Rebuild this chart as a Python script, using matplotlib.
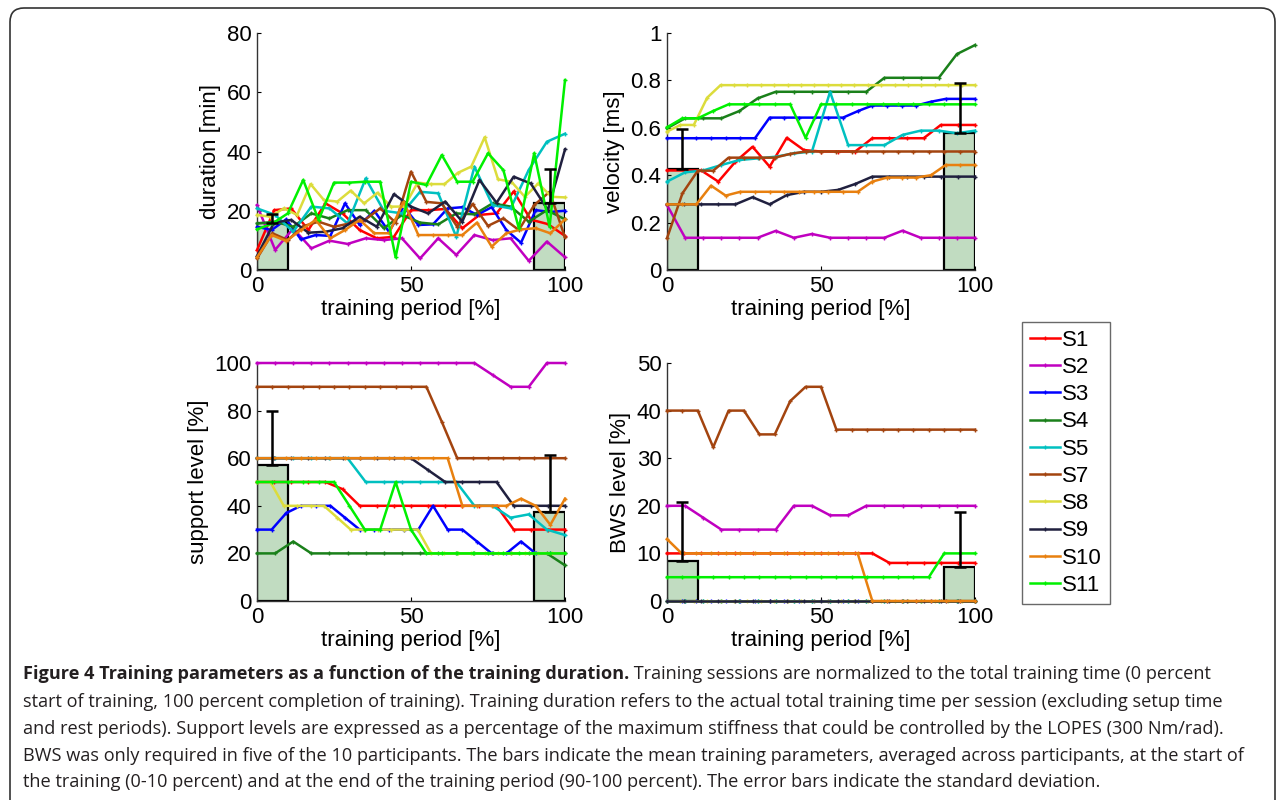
import numpy as np
import matplotlib
matplotlib.use("Agg")
import matplotlib.pyplot as plt
from matplotlib.patches import FancyBboxPatch

# ---------------- data ----------------
subjects = ["S1", "S2", "S3", "S4", "S5", "S7", "S8", "S9", "S10", "S11"]
colors = ["#ff0000", "#c000c0", "#0000ff", "#1a801a", "#00c0c0",
          "#a3440f", "#dcdc3c", "#20203f", "#e8800f", "#00f000"]

duration = {
    "S1": [6.7, 20.2, 20.8, 13.5, 22.5, 19.1, 13.5, 10.7, 11.2, 20.2, 20.2, 20.6, 14.1, 18.6, 19.1, 26.5, 17.0, 15.5, 11.5],
    "S2": [21.9, 6.8, 14.0, 7.3, 9.9, 8.8, 10.7, 10.1, 10.7, 3.9, 10.7, 5.1, 11.8, 10.1, 10.7, 3.1, 9.6, 4.3],
    "S3": [14.6, 13.5, 17.1, 10.3, 11.8, 11.5, 22.5, 15.2, 20.0, 12.9, 21.4, 15.2, 15.4, 20.8, 21.2, 18.6, 21.2, 13.5, 9.2, 20.2, 19.6, 20.0],
    "S4": [15.7, 16.3, 14.6, 19.1, 17.4, 20.2, 20.2, 14.1, 18.6, 16.0, 15.4, 19.1, 18.8, 22.5, 21.4, 16.3, 20.2, 17.1],
    "S5": [20.8, 18.6, 12.9, 21.4, 20.8, 15.7, 30.9, 20.0, 19.1, 26.4, 25.9, 11.2, 34.9, 21.9, 20.8, 33.8, 43.3, 46.0],
    "S7": [3.9, 12.4, 10.1, 14.8, 16.3, 14.6, 15.7, 16.9, 20.8, 16.0, 33.2, 23.0, 22.5, 14.6, 22.3, 14.9, 17.4, 13.5, 21.9, 26.4, 11.0],
    "S8": [18.6, 18.0, 20.8, 18.6, 29.0, 23.6, 23.1, 26.8, 22.5, 26.1, 21.4, 21.4, 29.5, 29.0, 29.0, 32.8, 34.9, 44.8, 30.6, 29.8, 24.7, 29.2, 24.7, 24.5],
    "S9": [4.7, 16.0, 16.9, 12.6, 12.9, 14.1, 18.0, 14.6, 25.6, 21.4, 19.1, 23.1, 16.3, 30.4, 22.7, 31.5, 29.2, 20.2, 40.7],
    "S10": [4.3, 11.8, 9.8, 13.5, 16.9, 10.7, 13.5, 16.9, 12.4, 12.4, 23.1, 11.8, 11.8, 11.8, 11.8, 16.0, 7.9, 12.4, 13.7, 14.1, 12.4, 17.1],
    "S11": [13.7, 15.7, 19.1, 30.4, 16.9, 29.5, 29.5, 29.8, 29.8, 4.3, 29.8, 28.7, 38.8, 29.8, 29.8, 39.4, 33.7, 14.1, 39.4, 14.6, 64.1],
}

velocity = {
    "S1": [0.42, 0.42, 0.42, 0.373, 0.457, 0.52, 0.436, 0.558, 0.506, 0.5, 0.5, 0.5, 0.556, 0.556, 0.556, 0.556, 0.612, 0.612, 0.612],
    "S2": [0.274, 0.136, 0.136, 0.136, 0.136, 0.136, 0.165, 0.136, 0.152, 0.136, 0.136, 0.136, 0.136, 0.166, 0.136, 0.136, 0.136, 0.136],
    "S3": [0.556, 0.556, 0.556, 0.556, 0.556, 0.556, 0.556, 0.643, 0.643, 0.643, 0.643, 0.643, 0.643, 0.67, 0.694, 0.694, 0.694, 0.694, 0.71, 0.722, 0.722, 0.722],
    "S4": [0.598, 0.64, 0.64, 0.64, 0.671, 0.724, 0.752, 0.752, 0.752, 0.752, 0.752, 0.752, 0.811, 0.811, 0.811, 0.811, 0.911, 0.949],
    "S5": [0.373, 0.412, 0.42, 0.443, 0.464, 0.471, 0.478, 0.492, 0.5, 0.752, 0.527, 0.527, 0.527, 0.57, 0.588, 0.588, 0.577, 0.588],
    "S7": [0.134, 0.323, 0.419, 0.419, 0.474, 0.474, 0.474, 0.474, 0.49, 0.5, 0.5, 0.5, 0.5, 0.5, 0.5, 0.5, 0.5, 0.5, 0.5, 0.5, 0.5],
    "S8": [0.584, 0.612, 0.612, 0.727, 0.78, 0.78, 0.78, 0.78, 0.78, 0.78, 0.78, 0.78, 0.78, 0.78, 0.78, 0.78, 0.78, 0.78, 0.78, 0.78, 0.78, 0.78, 0.78, 0.78],
    "S9": [0.277, 0.277, 0.277, 0.277, 0.277, 0.307, 0.277, 0.316, 0.33, 0.33, 0.338, 0.363, 0.394, 0.394, 0.394, 0.394, 0.394, 0.394, 0.394],
    "S10": [0.277, 0.277, 0.277, 0.356, 0.314, 0.33, 0.33, 0.33, 0.33, 0.33, 0.33, 0.33, 0.33, 0.33, 0.373, 0.39, 0.39, 0.39, 0.40, 0.443, 0.443, 0.443],
    "S11": [0.602, 0.64, 0.64, 0.671, 0.699, 0.699, 0.699, 0.699, 0.699, 0.558, 0.699, 0.699, 0.699, 0.699, 0.699, 0.699, 0.699, 0.699, 0.699, 0.699, 0.699],
}

support = {
    "S1": [50, 50, 50, 50, 50, 47, 40, 40, 40, 40, 40, 40, 40, 40, 40, 30, 30, 30, 30],
    "S2": [100, 100, 100, 100, 100, 100, 100, 100, 100, 100, 100, 100, 100, 95, 90, 90, 100, 100],
    "S3": [30, 30, 37, 40, 40, 40, 35, 30, 30, 30, 30, 30, 40, 30, 30, 25, 20, 20, 25, 20, 20, 20],
    "S4": [20, 20, 25, 20, 20, 20, 20, 20, 20, 20, 20, 20, 20, 20, 20, 20, 20, 15],
    "S5": [60, 60, 60, 60, 60, 60, 50, 50, 50, 50, 50, 50, 40, 40, 35, 36.4, 30, 27.7],
    "S7": [90, 90, 90, 90, 90, 90, 90, 90, 90, 90, 90, 90, 75.3, 60, 60, 60, 60, 60, 60, 60, 60],
    "S8": [50, 50, 40, 40, 40, 40, 35, 30, 30, 30, 30, 30, 30, 20, 20, 20, 20, 20, 20, 20, 20, 20, 20, 20],
    "S9": [60, 60, 60, 60, 60, 60, 60, 60, 60, 60, 55, 50, 50, 50, 50, 40, 40, 40, 40],
    "S10": [60, 60, 60, 60, 60, 60, 60, 60, 60, 60, 60, 60, 60, 60, 40, 40, 40, 40, 43, 40, 32, 43],
    "S11": [50, 50, 50, 50, 50, 50, 40, 30, 30, 50, 30, 20, 20, 20, 20, 20, 20, 20, 20, 20, 20],
}

bws = {
    "S1": [10, 10, 10, 10, 10, 10, 10, 10, 10, 10, 10, 10, 10, 8, 8, 8, 8, 8, 8],
    "S2": [20, 20, 17.5, 15, 15, 15, 15, 20, 20, 18, 18, 20, 20, 20, 20, 20, 20, 20],
    "S3": [0] * 22,
    "S4": [0] * 18,
    "S5": [0] * 18,
    "S7": [40, 40, 40, 32.3, 40, 40, 35, 35, 42, 45, 45, 36, 36, 36, 36, 36, 36, 36, 36, 36, 36],
    "S8": [0] * 24,
    "S9": [0] * 19,
    "S10": [13, 10, 10, 10, 10, 10, 10, 10, 10, 10, 10, 10, 10, 10, 0, 0, 0, 0, 0, 0, 0, 0],
    "S11": [5, 5, 5, 5, 5, 5, 5, 5, 5, 5, 5, 5, 5, 5, 5, 5, 5, 5, 10, 10, 10],
}

# mean (start, end) and std (start, end)
bar_mean = {"duration": [16.0, 22.7], "velocity": [0.426, 0.577],
            "support": [57.1, 37.5], "bws": [8.5, 7.2]}
bar_std = {"duration": [3.0, 11.4], "velocity": [0.168, 0.214],
           "support": [22.7, 23.8], "bws": [12.3, 11.6]}
bar_centers = [5, 95]
bar_width = 10

panels = [
    ("duration", duration, "duration [min]", (0, 80), [0, 20, 40, 60, 80], ["0", "20", "40", "60", "80"]),
    ("velocity", velocity, "velocity [ms]", (0, 1), [0, 0.2, 0.4, 0.6, 0.8, 1.0], ["0", "0.2", "0.4", "0.6", "0.8", "1"]),
    ("support", support, "support level [%]", (0, 100), [0, 20, 40, 60, 80, 100], ["0", "20", "40", "60", "80", "100"]),
    ("bws", bws, "BWS level [%]", (0, 50), [0, 10, 20, 30, 40, 50], ["0", "10", "20", "30", "40", "50"]),
]

# ---------------- figure ----------------
W, H = 1281, 800
fig = plt.figure(figsize=(W / 100, H / 100), dpi=100)
fig.patch.set_facecolor("white")

tick_font = "Liberation Sans"
fs = 16

def frac_rect(left, top, right, bottom):
    return [left / W, 1 - bottom / H, (right - left) / W, (bottom - top) / H]

rects = [frac_rect(257, 33, 565, 270), frac_rect(667, 33, 975, 270),
         frac_rect(257, 363, 565, 601), frac_rect(667, 363, 975, 601)]

axes = []
for rect, (key, data, ylabel, ylim, yticks, yticklabels) in zip(rects, panels):
    ax = fig.add_axes(rect)
    axes.append(ax)
    ax.bar(bar_centers, bar_mean[key], width=bar_width, color="#c1dcc1",
           edgecolor="black", linewidth=1.6, zorder=1)
    for s, c in zip(subjects, colors):
        vals = data[s]
        xs = np.linspace(0, 100, len(vals))
        ax.plot(xs, vals, color=c, lw=1.8, marker="+", ms=3.5, mew=1.0,
                clip_on=False, zorder=3, label=s)
    ax.errorbar(bar_centers, bar_mean[key],
                yerr=[[0, 0], bar_std[key]], fmt="none", ecolor="black",
                elinewidth=1.8, capsize=4.5, capthick=1.8, zorder=4)
    ax.set_xlim(0, 100)
    ax.set_ylim(*ylim)
    ax.set_xticks([0, 50, 100])
    ax.set_xticklabels(["0", "50", "100"])
    ax.set_yticks(yticks)
    ax.set_yticklabels(yticklabels)
    for sp in ["top", "right"]:
        ax.spines[sp].set_visible(False)
    for sp in ["left", "bottom"]:
        ax.spines[sp].set_color("#333333")
        ax.spines[sp].set_linewidth(1.0)
    ax.tick_params(direction="in", length=3, width=0.8, labelsize=fs, pad=4)
    for lab in ax.get_xticklabels() + ax.get_yticklabels():
        lab.set_fontfamily(tick_font)
    ax.set_xlabel("training period [%]", fontsize=fs, fontfamily=tick_font, labelpad=2)
    ax.set_ylabel(ylabel, fontsize=fs, fontfamily=tick_font, labelpad=4)

# legend
handles, labels = axes[0].get_legend_handles_labels()
leg = fig.legend(handles, labels, loc="upper left",
                 bbox_to_anchor=(1022 / W, 1 - 322 / H),
                 frameon=True, fancybox=False, edgecolor="#444444",
                 prop={"family": tick_font, "size": fs},
                 handlelength=1.35, handletextpad=0.1, labelspacing=0.28,
                 borderpad=0.35, borderaxespad=0)
leg.get_frame().set_linewidth(1.0)

# outer rounded frame (in inches)
frame = FancyBboxPatch((0.10, -0.5), 12.65, 8.42,
                       boxstyle="round,pad=0,rounding_size=0.14",
                       transform=fig.dpi_scale_trans, fill=False,
                       edgecolor="#333333", linewidth=1.2, clip_on=False)
fig.add_artist(frame)

# caption
cap_font = "Open Sans"
cap_fs = 13.1
cap_color = "#231f20"
x0 = 23 / W
line_y = [674, 702, 729, 756, 782]
bold_part = "Figure 4 Training parameters as a function of the training duration."
rest1 = " Training sessions are normalized to the total training time (0 percent"
lines = [
    "start of training, 100 percent completion of training). Training duration refers to the actual total training time per session (excluding setup time",
    "and rest periods). Support levels are expressed as a percentage of the maximum stiffness that could be controlled by the LOPES (300 Nm/rad).",
    "BWS was only required in five of the 10 participants. The bars indicate the mean training parameters, averaged across participants, at the start of",
    "the training (0-10 percent) and at the end of the training period (90-100 percent). The error bars indicate the standard deviation.",
]
tb = fig.text(x0, 1 - line_y[0] / H, bold_part, fontsize=cap_fs, fontfamily=cap_font,
              fontweight="bold", color=cap_color, va="center", ha="left")
fig.canvas.draw()
bb = tb.get_window_extent(renderer=fig.canvas.get_renderer())
fig.text(bb.x1 / W, 1 - line_y[0] / H, rest1, fontsize=cap_fs, fontfamily=cap_font,
         color=cap_color, va="center", ha="left")
for y, t in zip(line_y[1:], lines):
    fig.text(x0, 1 - y / H, t, fontsize=cap_fs, fontfamily=cap_font,
             color=cap_color, va="center", ha="left")

fig.savefig("out.png", dpi=100)
